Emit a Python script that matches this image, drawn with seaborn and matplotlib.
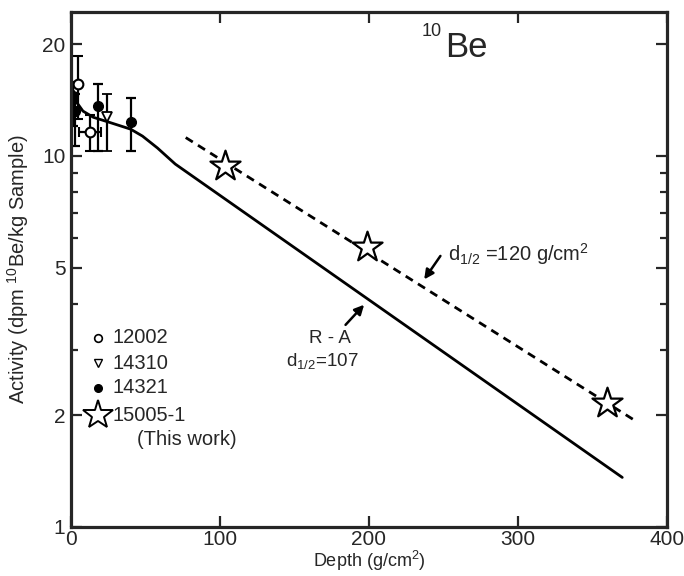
import matplotlib
matplotlib.use("Agg")
import matplotlib.pyplot as plt
import seaborn as sns
import pandas as pd
import numpy as np

# ---- data ----
# R-A model curve (solid)
model_depth = [1.5, 4, 8, 15, 26, 40, 48, 58, 70, 370]
model_act = [15.0, 13.9, 13.2, 12.7, 12.3, 11.8, 11.3, 10.5, 9.5, 1.36]

# d1/2 = 120 g/cm2 fit (dashed)
fit_depth = [77, 379]
fit_act = [11.2, 1.93]

# 15005-1 (this work) stars
star_depth = [103.5, 199, 360]
star_act = [9.4, 5.69, 2.16]

# 12002 open circles
c12002_depth = [4.8, 12.8]
c12002_act = [15.6, 11.6]
c12002_lo = [3.0, 1.3]
c12002_hi = [3.0, 1.3]
c12002_xerr = [0, 7.5]

# 14310 open triangle
t14310_depth = [24]
t14310_act = [12.7]
t14310_lo = [2.4]
t14310_hi = [2.0]

# 14321 filled circles
f14321_depth = [1.5, 2.5, 18, 40]
f14321_act = [14.5, 13.2, 13.6, 12.3]
f14321_lo = [2.5, 2.6, 3.3, 2.0]
f14321_hi = [1.3, 1.5, 2.0, 2.0]

legend_labels = ["12002", "14310", "14321", "15005-1"]
x_ticks = [0, 100, 200, 300, 400]
y_ticks = [1, 2, 5, 10, 20]
y_tick_labels = ["1", "2", "5", "10", "20"]

# ---- style ----
sns.set_style("ticks")
plt.rcParams["font.family"] = ["Liberation Sans", "DejaVu Sans"]
plt.rcParams["mathtext.default"] = "regular"

fig = plt.figure(figsize=(6.84, 5.76), dpi=100)
ax = fig.add_axes([0.1038, 0.0851, 0.8713, 0.894])

model_df = pd.DataFrame({"depth": model_depth, "act": model_act})
fit_df = pd.DataFrame({"depth": fit_depth, "act": fit_act})
star_df = pd.DataFrame({"depth": star_depth, "act": star_act})

sns.lineplot(data=model_df, x="depth", y="act", ax=ax, color="black",
             linewidth=2.0, sort=False)
sns.lineplot(data=fit_df, x="depth", y="act", ax=ax, color="black",
             linewidth=2.0, linestyle=(0, (3, 2.2)))

err_kw = dict(ecolor="black", elinewidth=1.6, capsize=3.5, capthick=1.6, linestyle="none")
ax.errorbar(f14321_depth, f14321_act, yerr=[f14321_lo, f14321_hi], marker="o",
            markersize=7, markerfacecolor="black", markeredgecolor="black", **err_kw)
ax.errorbar(c12002_depth, c12002_act, yerr=[c12002_lo, c12002_hi], xerr=c12002_xerr,
            marker="o", markersize=7, markerfacecolor="white",
            markeredgecolor="black", markeredgewidth=1.5, **err_kw)
ax.errorbar(t14310_depth, t14310_act, yerr=[t14310_lo, t14310_hi], marker="v",
            markersize=7, markerfacecolor="white", markeredgecolor="black",
            markeredgewidth=1.3, **err_kw)

sns.scatterplot(data=star_df, x="depth", y="act", ax=ax, marker="*", s=520,
                facecolor="white", edgecolor="black", linewidth=1.6, zorder=5)

ax.set_yscale("log")
ax.set_xlim(0, 400)
ax.set_ylim(1, 24.4)
ax.set_xticks(x_ticks)
ax.set_xticklabels([str(t) for t in x_ticks])
ax.set_yticks(y_ticks)
ax.set_yticklabels(y_tick_labels)
ax.yaxis.set_minor_locator(matplotlib.ticker.LogLocator(base=10, subs=np.arange(2, 10)))
ax.yaxis.set_minor_formatter(matplotlib.ticker.NullFormatter())
ax.tick_params(which="both", direction="in", top=True, right=True, width=1.6)
ax.tick_params(which="major", length=8, labelsize=15, pad=4)
ax.tick_params(which="minor", length=5)
ax.tick_params(axis="x", which="major", pad=2)
for s in ax.spines.values():
    s.set_linewidth(2.3)
    s.set_visible(True)

ax.set_xlabel("Depth (g/cm$^2$)", fontsize=13, labelpad=0)
ax.set_ylabel("Activity (dpm $^{10}$Be/kg Sample)", fontsize=14.5, labelpad=8)

# isotope label
ax.text(0.589, 0.962, "10", transform=ax.transAxes, fontsize=13, ha="left", va="center")
ax.text(0.627, 0.932, "Be", transform=ax.transAxes, fontsize=25, ha="left", va="center")

# in-plot legend
lx = 0.045
lt = 0.070
leg_y = [0.367, 0.318, 0.270, 0.217]
ax.plot([lx], [leg_y[0]], transform=ax.transAxes, marker="o", markersize=5.5,
        markerfacecolor="white", markeredgecolor="black", markeredgewidth=1.2)
ax.plot([lx], [leg_y[1]], transform=ax.transAxes, marker="v", markersize=5.5,
        markerfacecolor="white", markeredgecolor="black", markeredgewidth=1.0)
ax.plot([lx], [leg_y[2]], transform=ax.transAxes, marker="o", markersize=5.5,
        markerfacecolor="black", markeredgecolor="black")
ax.plot([lx], [leg_y[3]], transform=ax.transAxes, marker="*", markersize=22,
        markerfacecolor="white", markeredgecolor="black", markeredgewidth=1.4)
for lab, yy in zip(legend_labels, leg_y):
    ax.text(lt, yy, lab, transform=ax.transAxes, fontsize=14.5, ha="left", va="center")
ax.text(0.111, 0.169, "(This work)", transform=ax.transAxes, fontsize=14.5,
        ha="left", va="center")

# annotations
ax.annotate("", xy=(236, 4.58), xytext=(249, 5.45),
            arrowprops=dict(arrowstyle="-|>", color="black", lw=1.8,
                            mutation_scale=14))
ax.text(253, 5.44, "d$_{1/2}$ =120 g/cm$^2$", fontsize=14.5, ha="left", va="center")

ax.annotate("", xy=(198, 4.02), xytext=(183, 3.46),
            arrowprops=dict(arrowstyle="-|>", color="black", lw=1.8,
                            mutation_scale=14))
ax.text(174, 3.22, "R - A", fontsize=13.5, ha="center", va="center")
ax.text(144, 2.80, "d$_{1/2}$=107", fontsize=13.5, ha="left", va="center")

fig.savefig("out.png", dpi=100)
